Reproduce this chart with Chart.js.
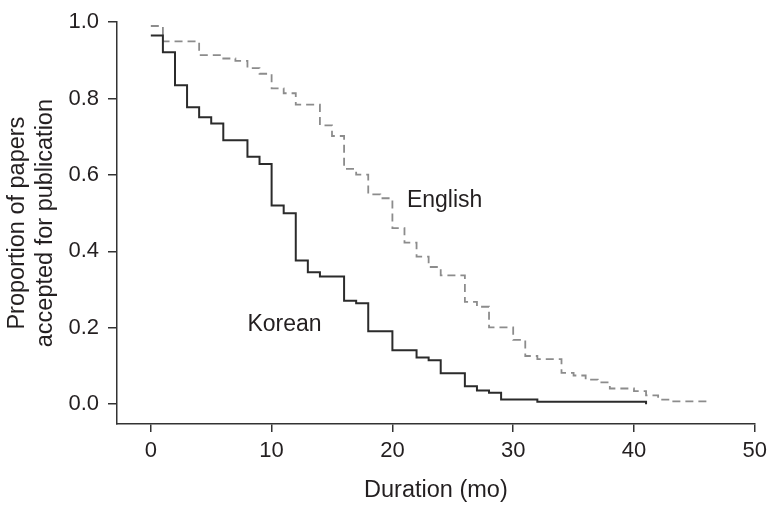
<!DOCTYPE html>
<html>
<head>
<meta charset="utf-8">
<script src="https://cdn.jsdelivr.net/npm/chart.js@4/dist/chart.umd.min.js"></script>
<style>
html,body{margin:0;padding:0;background:#fff;}
#wrap{width:773px;height:508px;position:relative;}
</style>
</head>
<body>
<div id="wrap"><canvas id="c" width="773" height="508"></canvas></div>
<script>
// Kaplan-Meier style curves: duration (months) and proportion remaining
const koreanMonths = [0, 1, 2, 3, 4, 5, 6, 8, 9, 10, 11, 12, 13, 14, 16, 17, 18, 20, 22, 23, 24, 26, 27, 28, 29, 32, 41, 41];
const koreanValues = [0.965, 0.921, 0.835, 0.777, 0.751, 0.735, 0.691, 0.648, 0.629, 0.520, 0.500, 0.376, 0.345, 0.334, 0.271, 0.264, 0.191, 0.141, 0.122, 0.115, 0.081, 0.047, 0.036, 0.030, 0.012, 0.006, 0.006, 0.0];
const englishMonths = [0, 1, 4, 6, 7, 8, 9, 10, 11, 12, 14, 15, 16, 17, 18, 19, 20, 21, 22, 23, 24, 26, 27, 28, 30, 31, 32, 34, 35, 36, 37, 38, 40, 41, 42, 43, 46.3];
const englishValues = [0.990, 0.950, 0.914, 0.905, 0.899, 0.880, 0.865, 0.827, 0.814, 0.784, 0.730, 0.702, 0.616, 0.601, 0.549, 0.539, 0.461, 0.423, 0.386, 0.359, 0.337, 0.268, 0.255, 0.201, 0.168, 0.126, 0.118, 0.082, 0.075, 0.064, 0.057, 0.041, 0.034, 0.023, 0.012, 0.007, 0.007];
const seriesNames = ['Korean', 'English'];
const xTicks = [0, 10, 20, 30, 40, 50];
const yTicks = [0.0, 0.2, 0.4, 0.6, 0.8, 1.0];
const xTitle = 'Duration (mo)';
const yTitle = ['Proportion of papers', 'accepted for publication'];

const FONT = '"Liberation Sans", Arial, Helvetica, sans-serif';
const TXT = '#231f20';

function pts(xs, ys) { return xs.map((x, i) => ({x: x, y: ys[i]})); }

const labelPlugin = {
  id: 'curveLabels',
  afterDatasetsDraw(chart) {
    const {ctx, scales: {x, y}} = chart;
    ctx.save();
    ctx.fillStyle = TXT;
    ctx.font = '23px ' + FONT;
    ctx.textBaseline = 'middle';
    ctx.textAlign = 'left';
    ctx.fillText(seriesNames[1], x.getPixelForValue(21.2), y.getPixelForValue(0.534));
    ctx.fillText(seriesNames[0], x.getPixelForValue(8.0), y.getPixelForValue(0.209));
    ctx.restore();
  }
};

new Chart(document.getElementById('c'), {
  type: 'scatter',
  data: {
    datasets: [
      {
        label: seriesNames[0],
        data: pts(koreanMonths, koreanValues),
        showLine: true,
        stepped: 'before',
        borderColor: '#2b2b2b',
        borderWidth: 2,
        pointRadius: 0,
        fill: false
      },
      {
        label: seriesNames[1],
        data: pts(englishMonths, englishValues),
        showLine: true,
        stepped: 'before',
        borderColor: '#8c8c8c',
        borderWidth: 1.8,
        borderDash: [8, 5],
        pointRadius: 0,
        fill: false
      }
    ]
  },
  options: {
    responsive: false,
    animation: false,
    devicePixelRatio: 1,
    layout: {padding: {left: 0, right: 17, top: 16, bottom: 0}},
    plugins: {legend: {display: false}, tooltip: {enabled: false}},
    scales: {
      x: {
        type: 'linear',
        min: -2.8,
        max: 50,
        afterBuildTicks(scale) { scale.ticks = xTicks.map(v => ({value: v})); },
        afterFit(scale) { scale.height = 84; },
        grid: {drawOnChartArea: false, drawTicks: true, tickLength: 8, color: '#333', lineWidth: 1.5},
        border: {display: true, color: '#333', width: 1.5},
        ticks: {color: TXT, font: {family: FONT, size: 22}, padding: 6, maxRotation: 0,
                callback: v => String(v)},
        title: {display: true, text: xTitle, color: TXT, font: {family: FONT, size: 23.5, lineHeight: 1.2},
                padding: {top: 0, bottom: 3}}
      },
      y: {
        type: 'linear',
        min: -0.052,
        max: 1.0,
        afterBuildTicks(scale) { scale.ticks = yTicks.map(v => ({value: v})); },
        afterFit(scale) { scale.width = 117; },
        grid: {drawOnChartArea: false, drawTicks: true, tickLength: 9, color: '#333', lineWidth: 1.5},
        border: {display: true, color: '#333', width: 1.5},
        ticks: {color: TXT, font: {family: FONT, size: 22}, padding: 9,
                callback: v => Number(v).toFixed(1)},
        title: {display: true, text: yTitle, color: TXT, font: {family: FONT, size: 23.5, lineHeight: 1.15},
                padding: {top: 4.5, bottom: 0}}
      }
    }
  },
  plugins: [labelPlugin]
});
</script>
</body>
</html>
